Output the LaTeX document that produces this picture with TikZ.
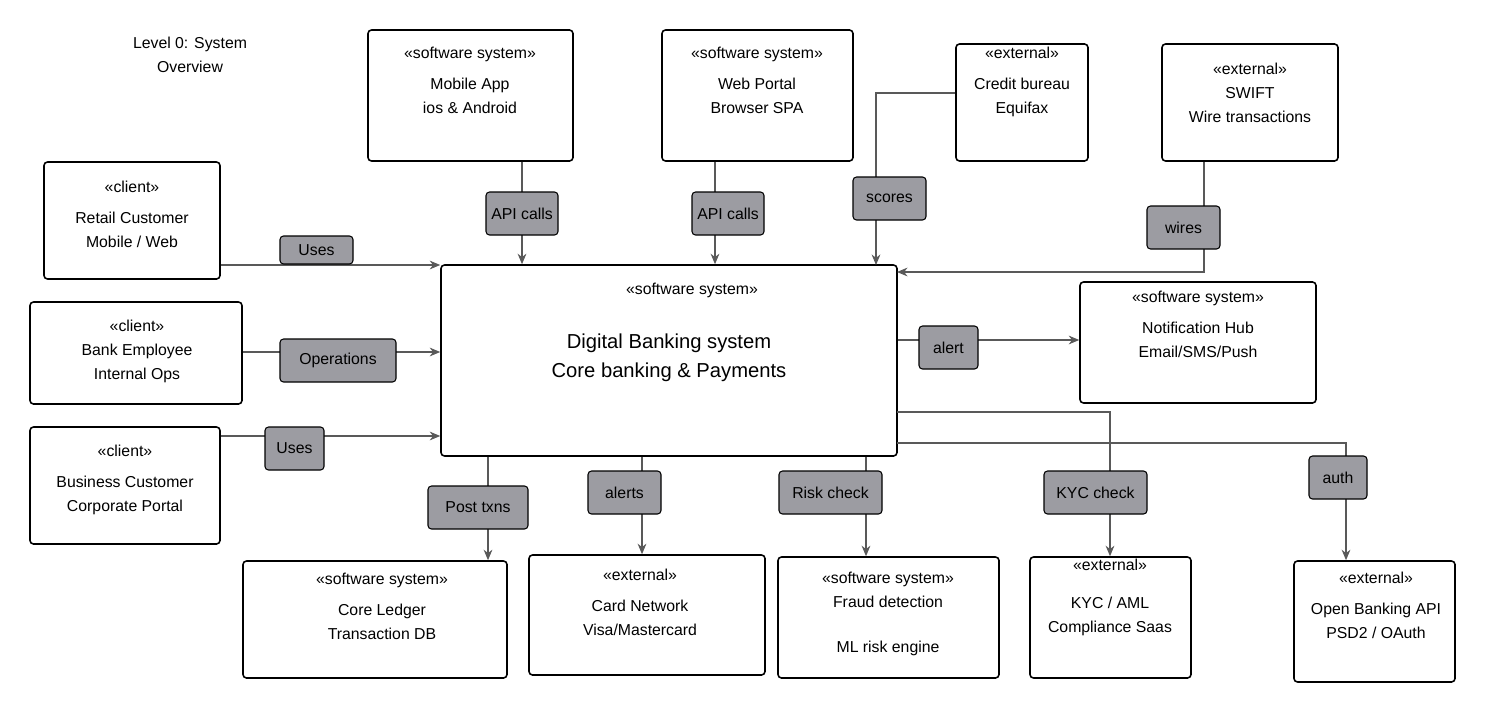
\documentclass[tikz,border=0pt]{standalone}
\usepackage{fontspec}
\setmainfont{Liberation Sans}
\usetikzlibrary{fit,arrows.meta}
\begin{document}
\begin{tikzpicture}[x=0.02cm,y=-0.02cm,
  box/.style={draw=black,line width=0.9pt,rounded corners=2pt,inner sep=0pt},
  lbl/.style={draw=black,fill=gray!60!blue!8!gray!75,line width=0.6pt,rounded corners=2pt,inner sep=0pt},
  txt/.style={align=center,font=\fontsize{9}{13.5}\selectfont,anchor=north},
  conn/.style={draw=gray!70!black,line width=0.6pt},
  arr/.style={conn,-{Stealth[length=6pt,width=5pt]}}]
\useasboundingbox (0,0) rectangle (1500,713);
\node[txt] (title) at (190,31) {Level 0: System\\Overview};
% boxes
\node[box,fit={(368,30)(573,161)}] (mob) {};
\node[txt] (mobt) at (470,41) {<<software system>>\\[4pt]Mobile App\\ios \& Android};
\node[box,fit={(662,30)(853,161)}] (web) {};
\node[txt] (webt) at (757,41) {<<software system>>\\[4pt]Web Portal\\Browser SPA};
\node[box,fit={(956,44)(1088,161)}] (cb) {};
\node[txt] (cbt) at (1022,41) {<<external>>\\[4pt]Credit bureau\\Equifax};
\node[box,fit={(1162,44)(1338,161)}] (sw) {};
\node[txt] (swt) at (1250,57) {<<external>>\\SWIFT\\Wire transactions};
\node[box,fit={(44,162)(220,279)}] (ret) {};
\node[txt] (rett) at (132,175) {<<client>>\\[4pt]Retail Customer\\Mobile / Web};
\node[box,fit={(30,302)(242,404)}] (emp) {};
\node[txt] (empt) at (137,314) {<<client>>\\Bank Employee\\Internal Ops};
\node[box,fit={(30,427)(220,544)}] (bus) {};
\node[txt] (bust) at (125,439) {<<client>>\\[4pt]Business Customer\\Corporate Portal};
\node[box,fit={(441,265)(897,456)}] (main) {};
\node[txt] (maint) at (692,277) {<<software system>>};
\node[align=center,font=\fontsize{11.5}{16.5}\selectfont] (mainb) at (669,358) {Digital Banking system\\Core banking \& Payments};
\node[box,fit={(1080,282)(1316,403)}] (not) {};
\node[txt] (nott) at (1198,285) {<<software system>>\\[4pt]Notification Hub\\Email/SMS/Push};
\node[box,fit={(243,561)(507,678)}] (led) {};
\node[txt] (ledt) at (382,567) {<<software system>>\\[4pt]Core Ledger\\Transaction DB};
\node[box,fit={(529,555)(765,675)}] (card) {};
\node[txt] (cardt) at (640,563) {<<external>>\\[4pt]Card Network\\Visa/Mastercard};
\node[box,fit={(778,557)(999,678)}] (fr) {};
\node[txt] (frt) at (888,566) {<<software system>>\\Fraud detection\\[12pt]ML risk engine};
\node[box,fit={(1030,557)(1191,678)}] (kyc) {};
\node[txt] (kyct) at (1110,553) {<<external>>\\[8pt]KYC / AML\\Compliance Saas};
\node[box,fit={(1294,561)(1455,682)}] (ob) {};
\node[txt] (obt) at (1376,566) {<<external>>\\[4pt]Open Banking API\\PSD2 / OAuth};
% connectors
\coordinate (c1) at (876,93); \coordinate (c2) at (876,265);
\coordinate (s1) at (1204,272); \coordinate (s2) at (897,272);
\coordinate (k0) at (897,412); \coordinate (k1) at (1110,412);
\coordinate (a0) at (897,443); \coordinate (a1) at (1346,443);
\draw[arr] (ret.east|-0,265) -- (main.west|-0,265);
\draw[arr] (emp.east|-0,352) -- (main.west|-0,352);
\draw[arr] (bus.east|-0,436) -- (main.west|-0,436);
\draw[arr] (mob.south-|522,0) -- (main.north-|522,0);
\draw[arr] (web.south-|715,0) -- (main.north-|715,0);
\draw[arr] (cb.west|-c1) -- (c1) -- (c2);
\draw[arr] (sw.south-|s1) -- (s1) -- (s2);
\draw[arr] (main.east|-0,340) -- (not.west|-0,340);
\draw[arr] (main.south-|488,0) -- (led.north-|488,0);
\draw[arr] (main.south-|642,0) -- (card.north-|642,0);
\draw[arr] (main.south-|866,0) -- (fr.north-|866,0);
\draw[arr] (k0) -- (k1) -- (kyc.north-|k1);
\draw[arr] (a0) -- (a1) -- (ob.north-|a1);
% labels
\def\L#1#2#3#4#5#6{\node[lbl,fit={(#2,#3)(#4,#5)}] (#1) {}; \node[font=\fontsize{9}{11}\selectfont] at (#1.center) {#6};}
\L{l1}{280}{236}{353}{264}{Uses}
\L{l2}{280}{339}{396}{382}{Operations}
\L{l3}{265}{427}{324}{470}{Uses}
\L{l4}{486}{192}{558}{235}{API calls}
\L{l5}{692}{192}{764}{235}{API calls}
\L{l6}{853}{177}{926}{220}{scores}
\L{l7}{1147}{206}{1220}{249}{wires}
\L{l8}{919}{326}{978}{369}{alert}
\L{l9}{428}{486}{528}{529}{Post txns}
\L{l10}{588}{471}{661}{514}{alerts}
\L{l11}{779}{471}{882}{514}{Risk check}
\L{l12}{1044}{471}{1147}{514}{KYC check}
\L{l13}{1309}{456}{1367}{499}{auth}
\end{tikzpicture}
\end{document}
